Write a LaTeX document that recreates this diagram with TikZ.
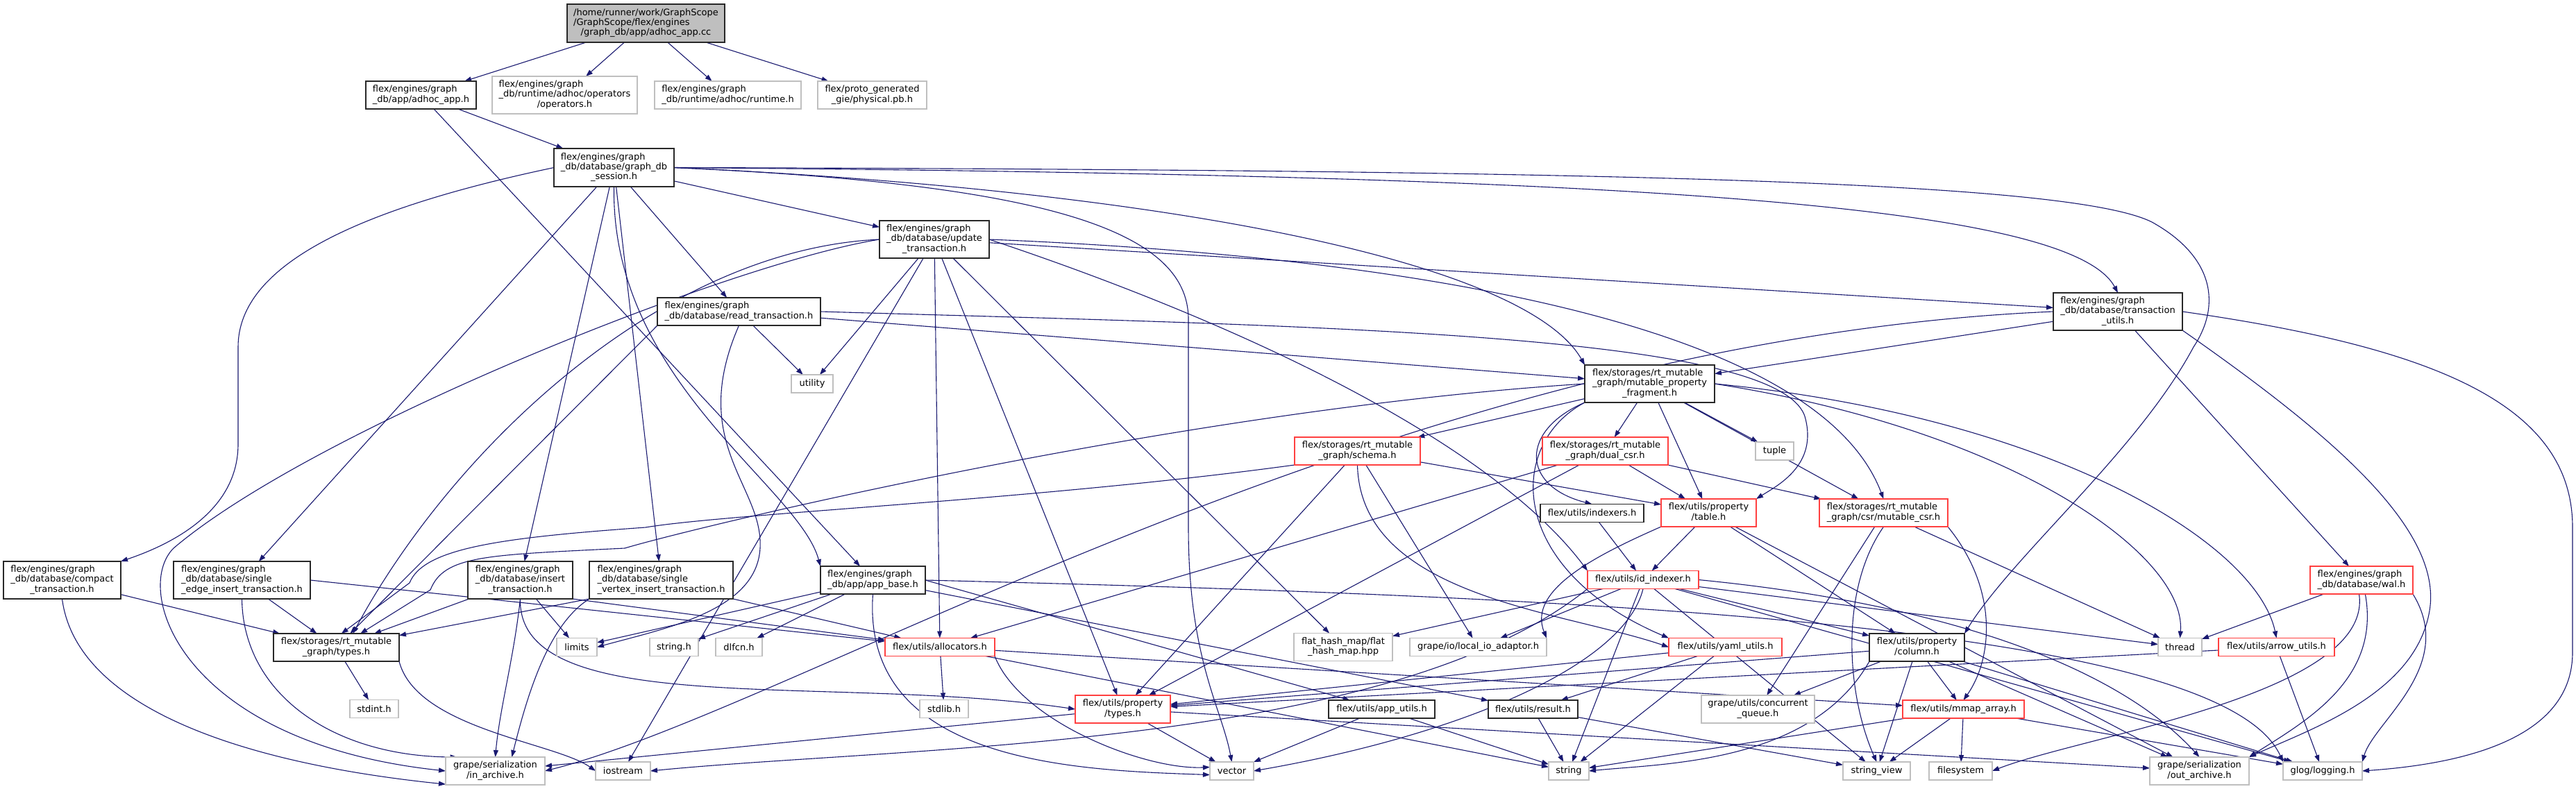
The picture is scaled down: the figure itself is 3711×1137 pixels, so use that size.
\documentclass[tikz,border=0pt]{standalone}
\usepackage{fontspec}
\setmainfont{DejaVu Sans}
\usetikzlibrary{arrows.meta,backgrounds}
\definecolor{edgec}{RGB}{25,25,112}
\definecolor{greyb}{RGB}{191,191,191}
\definecolor{redb}{RGB}{255,64,64}
\definecolor{darkb}{RGB}{40,40,40}
\definecolor{rootf}{RGB}{191,191,191}
\newcommand{\mlab}[2]{\begin{tabular}{@{}l@{}}#1\\\multicolumn{1}{@{}c@{}}{#2}\end{tabular}}
\tikzset{
 base/.style={rectangle, inner sep=0pt, outer sep=0pt, font=\fontsize{13}{14.3}\selectfont, fill=white, line width=1.5pt},
 blk/.style={base, draw=darkb},
 gry/.style={base, draw=greyb},
 rd/.style={base, draw=redb},
 rootn/.style={base, draw=darkb, fill=rootf},
 dep/.style={draw=edgec, line width=1.1pt, -{Triangle[length=10pt,width=7pt]}},
 sz/.style 2 args={minimum width=#1pt, minimum height=#2pt}
}
\begin{document}
\begin{tikzpicture}[x=1pt,y=-1pt]
\useasboundingbox (0,0) rectangle (3711,1137);
% nodes
\node[rootn, sz={227}{55}] (root) at (930.5,33.5) {\mlab{/home/runner/work/GraphScope\\/GraphScope/flex/engines}{/graph\_db/app/adhoc\_app.cc}};
\node[blk, sz={159}{40}] (adhoc) at (606.5,137) {\mlab{flex/engines/graph}{\_db/app/adhoc\_app.h}};
\node[gry, sz={209}{54}] (ops) at (813.5,137) {\mlab{flex/engines/graph\\\_db/runtime/adhoc/operators}{/operators.h}};
\node[gry, sz={211}{40}] (runtime) at (1048.5,137) {\mlab{flex/engines/graph}{\_db/runtime/adhoc/runtime.h}};
\node[gry, sz={157}{40}] (phys) at (1256.5,137) {\mlab{flex/proto\_generated}{\_gie/physical.pb.h}};
\node[blk, sz={173}{55}] (session) at (884.5,241.5) {\mlab{flex/engines/graph\\\_db/database/graph\_db}{\_session.h}};
\node[blk, sz={158}{54}] (update) at (1346,345) {\mlab{flex/engines/graph\\\_db/database/update}{\_transaction.h}};
\node[blk, sz={235}{40}] (read) at (1064.5,449) {\mlab{flex/engines/graph}{\_db/database/read\_transaction.h}};
\node[gry, sz={60}{26}] (utility) at (1170,553) {utility};
\node[blk, sz={187}{54}] (mpf) at (2376.5,553) {\mlab{flex/storages/rt\_mutable\\\_graph/mutable\_property}{\_fragment.h}};
\node[blk, sz={186}{54}] (tu) at (3051,449) {\mlab{flex/engines/graph\\\_db/database/transaction}{\_utils.h}};
\node[rd, sz={181}{40}] (schema) at (1955.5,650) {\mlab{flex/storages/rt\_mutable}{\_graph/schema.h}};
\node[rd, sz={181}{40}] (dual) at (2312.5,650) {\mlab{flex/storages/rt\_mutable}{\_graph/dual\_csr.h}};
\node[gry, sz={55}{26}] (tuple) at (2556.5,650) {tuple};
\node[blk, sz={149}{26}] (indexers) at (2293.5,739.5) {flex/utils/indexers.h};
\node[rd, sz={137}{40}] (table) at (2461.5,739) {\mlab{flex/utils/property}{/table.h}};
\node[rd, sz={185}{40}] (mcsr) at (2713.5,739) {\mlab{flex/storages/rt\_mutable}{\_graph/csr/mutable\_csr.h}};
\node[rd, sz={148}{40}] (wal) at (3402,836) {\mlab{flex/engines/graph}{\_db/database/wal.h}};
\node[blk, sz={169}{54}] (compact) at (89.5,836) {\mlab{flex/engines/graph\\\_db/database/compact}{\_transaction.h}};
\node[blk, sz={197}{54}] (sedge) at (348.5,836) {\mlab{flex/engines/graph\\\_db/database/single}{\_edge\_insert\_transaction.h}};
\node[blk, sz={151}{54}] (insert) at (749.5,836) {\mlab{flex/engines/graph\\\_db/database/insert}{\_transaction.h}};
\node[blk, sz={207}{54}] (svert) at (952.5,836) {\mlab{flex/engines/graph\\\_db/database/single}{\_vertex\_insert\_transaction.h}};
\node[blk, sz={151}{40}] (appbase) at (1257.5,836) {\mlab{flex/engines/graph}{\_db/app/app\_base.h}};
\node[blk, sz={181}{40}] (rttypes) at (484.5,933) {\mlab{flex/storages/rt\_mutable}{\_graph/types.h}};
\node[gry, sz={58}{26}] (limits) at (831,932.5) {limits};
\node[gry, sz={70}{26}] (stringh) at (971,932.5) {string.h};
\node[gry, sz={67}{26}] (dlfcn) at (1064.5,932.5) {dlfcn.h};
\node[rd, sz={158}{26}] (alloc) at (1354,932.5) {flex/utils/allocators.h};
\node[gry, sz={70}{26}] (stdint) at (539,1021.5) {stdint.h};
\node[gry, sz={70}{26}] (stdlib) at (1360,1021.5) {stdlib.h};
\node[rd, sz={137}{40}] (ptypes) at (1617.5,1022) {\mlab{flex/utils/property}{/types.h}};
\node[gry, sz={143}{40}] (inarch) at (713.5,1111) {\mlab{grape/serialization}{/in\_archive.h}};
\node[gry, sz={79}{26}] (iostream) at (897.5,1111) {iostream};
\node[gry, sz={63}{26}] (vector) at (1774.5,1111) {vector};
\node[rd, sz={160}{26}] (idx) at (2367,835.5) {flex/utils/id\_indexer.h};
\node[gry, sz={142}{40}] (fhm) at (1935,932.5) {\mlab{flat\_hash\_map/flat}{\_hash\_map.hpp}};
\node[gry, sz={197}{26}] (localio) at (2129.5,932.5) {grape/io/local\_io\_adaptor.h};
\node[rd, sz={163}{26}] (yaml) at (2485.5,932.5) {flex/utils/yaml\_utils.h};
\node[blk, sz={137}{40}] (column) at (2761.5,933) {\mlab{flex/utils/property}{/column.h}};
\node[gry, sz={63}{26}] (thread) at (3140.5,932.5) {thread};
\node[rd, sz={167}{26}] (arrow) at (3279.5,932.5) {flex/utils/arrow\_utils.h};
\node[blk, sz={153}{26}] (apputils) at (1990.5,1022) {flex/utils/app\_utils.h};
\node[blk, sz={129}{26}] (result) at (2208.5,1022) {flex/utils/result.h};
\node[gry, sz={163}{40}] (cqueue) at (2532.5,1022) {\mlab{grape/utils/concurrent}{\_queue.h}};
\node[rd, sz={175}{26}] (mmap) at (2828.5,1022) {flex/utils/mmap\_array.h};
\node[gry, sz={58}{26}] (string) at (2260,1111) {string};
\node[gry, sz={97}{26}] (strview) at (2703.5,1111) {string\_view};
\node[gry, sz={91}{26}] (fs) at (2824.5,1111) {filesystem};
\node[gry, sz={143}{40}] (outarch) at (3168.5,1111) {\mlab{grape/serialization}{/out\_archive.h}};
\node[gry, sz={114}{26}] (logging) at (3346,1111) {glog/logging.h};
% edges
\begin{pgfonlayer}{background}
\fill[white] (0,0) rectangle (3711,1137);
% root
\draw[dep] (root) -- (adhoc);
\draw[dep] (root) -- (ops);
\draw[dep] (root) -- (runtime);
\draw[dep] (root) -- (phys);
% adhoc
\draw[dep] (adhoc) -- (session);
\draw[dep] (adhoc) -- (appbase);
% session
\draw[dep] (session.west) .. controls (520,300) and (343,380) .. (343,500) -- (343,640) .. controls (343,730) and (260,780) .. (compact.north east);
\draw[dep] (session) -- (sedge);
\draw[dep] (session) -- (insert);
\draw[dep] (session) -- (svert);
\draw[dep] (session.south) .. controls (880,550) and (1150,700) .. (appbase.north west);
\draw[dep] (session) -- (read);
\draw[dep] (session) -- (update);
\draw[dep] (session.east) .. controls (1700,275) and (2200,380) .. (mpf.north west);
\draw[dep] (session.east) .. controls (2300,252) and (2980,290) .. (tu.north);
\draw[dep] (session.east) .. controls (2300,245) and (2980,260) .. (3100,320) .. controls (3190,370) and (3200,440) .. (3160,500) .. controls (3080,650) and (2900,800) .. (column.north east);
\draw[dep] (session.east) .. controls (1500,265) and (1712,330) .. (1712,460) -- (1712,760) .. controls (1712,950) and (1760,1020) .. (vector.north);
% update
\draw[dep] (update) -- (utility);
\draw[dep] (update) -- (tu);
\draw[dep] (update.east) .. controls (1800,360) and (2600,420) .. (mcsr.north);
\draw[dep] (update.west) .. controls (950,360) and (650,650) .. (rttypes.40);
\draw[dep] (update.west) .. controls (1050,380) and (450,620) .. (250,790) .. controls (190,850) and (260,1070) .. (inarch.west);
\draw[dep] (update) -- (alloc);
\draw[dep] (update) -- (ptypes);
\draw[dep] (update.east) .. controls (1800,470) and (2150,640) .. (idx.north west);
\draw[dep] (update) -- (fhm);
\draw[dep] (update) -- (iostream);
% read
\draw[dep] (read) -- (mpf);
\draw[dep] (read) -- (utility);
\draw[dep] (read.south west) -- (rttypes);
\draw[dep] (read.south) .. controls (990,640) and (1100,700) .. (1095,790) .. controls (1090,880) and (960,905) .. (limits.east);
\draw[dep] (read.east) .. controls (1900,470) and (2560,480) .. (2600,600) .. controls (2620,670) and (2560,700) .. (table.north east);
% compact, sedge, insert, svert
\draw[dep] (compact) -- (rttypes);
\draw[dep] (compact.south) .. controls (110,1020) and (350,1100) .. (inarch.195);
\draw[dep] (sedge) -- (rttypes);
\draw[dep] (sedge.south) .. controls (350,1000) and (480,1090) .. (inarch.160);
\draw[dep] (sedge.east) -- (alloc);
\draw[dep] (insert) -- (rttypes);
\draw[dep] (insert.south) .. controls (740,950) and (720,1020) .. (inarch.north);
\draw[dep] (insert) -- (limits);
\draw[dep] (insert.south east) -- (alloc);
\draw[dep] (insert.south) .. controls (745,1040) and (1200,970) .. (ptypes.west);
\draw[dep] (svert.south west) -- (rttypes);
\draw[dep] (svert.south east) -- (alloc);
\draw[dep] (svert.south west) .. controls (790,900) and (760,1000) .. (inarch.40);
% appbase
\draw[dep] (appbase) -- (limits);
\draw[dep] (appbase) -- (stringh);
\draw[dep] (appbase) -- (dlfcn);
\draw[dep] (appbase.south) .. controls (1240,1100) and (1550,1110) .. (vector.190);
\draw[dep] (appbase.east) -- (apputils);
\draw[dep] (appbase) -- (result);
\draw[dep] (appbase.east) .. controls (2300,860) and (3200,900) .. (logging.north west);
% transaction utils
\draw[dep] (tu) -- (mpf);
\draw[dep] (tu) -- (wal);
\draw[dep] (tu.south east) .. controls (3350,620) and (3520,760) .. (3500,880) .. controls (3480,1000) and (3330,1050) .. (outarch.north east);
\draw[dep] (tu.east) .. controls (3500,500) and (3706,580) .. (3706,760) -- (3706,940) .. controls (3706,1060) and (3560,1100) .. (logging.east);
\draw[dep] (tu.west) .. controls (2000,490) and (1150,1020) .. (inarch.east);
% mutable property fragment
\draw[dep] (mpf) -- (schema);
\draw[dep] (mpf) -- (dual);
\draw[dep] (mpf) -- (table);
\draw[dep] (mpf) -- (mcsr);
\draw[dep] (mpf) -- (tuple);
\draw[dep] (mpf.south west) .. controls (2190,620) and (2190,700) .. (indexers.north);
\draw[dep] (mpf.south west) .. controls (2170,640) and (2170,820) .. (yaml.north west);
\draw[dep] (mpf.west) .. controls (1700,590) and (1000,760) .. (900,790) .. controls (700,800) and (640,800) .. (620,850) -- (rttypes.30);
\draw[dep] (mpf.east) .. controls (2900,620) and (3150,800) .. (thread.north);
\draw[dep] (mpf.east) .. controls (2950,600) and (3250,780) .. (arrow.north);
% schema
\draw[dep] (schema.south west) .. controls (1500,720) and (1050,740) .. (930,760) .. controls (720,775) and (610,790) .. (590,840) -- (rttypes.70);
\draw[dep] (schema) -- (ptypes);
\draw[dep] (schema) -- (localio);
\draw[dep] (schema) -- (table);
\draw[dep] (schema.south) .. controls (1960,860) and (2250,880) .. (yaml.west);
% dual csr
\draw[dep] (dual) -- (alloc);
\draw[dep] (dual) -- (ptypes);
\draw[dep] (dual) -- (table);
\draw[dep] (dual) -- (mcsr);
% table
\draw[dep] (table.south west) .. controls (2300,800) and (2200,850) .. (localio.north east);
\draw[dep] (table) -- (idx);
\draw[dep] (table) -- (column);
\draw[dep] (table) -- (outarch);
% mutable csr
\draw[dep] (mcsr.south) .. controls (2650,850) and (2660,1000) .. (strview.north);
\draw[dep] (mcsr) -- (thread);
\draw[dep] (mcsr.south east) .. controls (2880,850) and (2870,950) .. (mmap.north);
\draw[dep] (mcsr) -- (cqueue);
% indexers, id_indexer
\draw[dep] (indexers) -- (idx);
\draw[dep] (idx) -- (fhm);
\draw[dep] (idx) -- (localio);
\draw[dep] (idx.south) .. controls (2340,960) and (2100,1060) .. (vector.east);
\draw[dep] (idx) -- (column);
\draw[dep] (idx) -- (thread);
\draw[dep] (idx.east) .. controls (2800,870) and (3050,960) .. (outarch.north);
\draw[dep] (idx) -- (logging);
\draw[dep] (idx) -- (strview);
\draw[dep] (idx) -- (string);
\draw[dep] (idx.south west) .. controls (2000,1080) and (1300,1075) .. (iostream.east);
% yaml
\draw[dep] (yaml) -- (ptypes);
\draw[dep] (yaml) -- (result);
\draw[dep] (yaml) -- (string);
% column
\draw[dep] (column) -- (ptypes);
\draw[dep] (column) -- (mmap);
\draw[dep] (column) -- (cqueue);
\draw[dep] (column.south west) .. controls (2610,1100) and (2400,1100) .. (string.east);
\draw[dep] (column) -- (strview);
\draw[dep] (column) -- (outarch);
\draw[dep] (column) -- (logging);
% allocators
\draw[dep] (alloc) -- (stdlib);
\draw[dep] (alloc.south east) .. controls (1470,1040) and (1650,1110) .. (vector.170);
\draw[dep] (alloc) -- (string);
\draw[dep] (alloc) -- (mmap);
% property types
\draw[dep] (ptypes) -- (vector);
\draw[dep] (ptypes) -- (inarch);
\draw[dep] (ptypes) -- (outarch);
% rt types
\draw[dep] (rttypes) -- (stdint);
\draw[dep] (rttypes.south east) .. controls (600,1050) and (800,1070) .. (iostream.west);
% mmap
\draw[dep] (mmap) -- (strview);
\draw[dep] (mmap) -- (fs);
\draw[dep] (mmap) -- (string);
\draw[dep] (mmap) -- (logging);
% result, app utils
\draw[dep] (result) -- (string);
\draw[dep] (result) -- (strview);
\draw[dep] (apputils) -- (vector);
\draw[dep] (apputils) -- (string);
% wal
\draw[dep] (wal) -- (thread);
\draw[dep] (wal.-100) .. controls (3420,1000) and (3000,1060) .. (fs.east);
\draw[dep] (wal.-75) .. controls (3430,980) and (3320,1040) .. (outarch.north east);
\draw[dep] (wal.south east) .. controls (3540,960) and (3420,1040) .. (logging.north east);
% arrow utils
\draw[dep] (arrow) -- (ptypes);
\draw[dep] (arrow) -- (logging);
\end{pgfonlayer}
\end{tikzpicture}
\end{document}
